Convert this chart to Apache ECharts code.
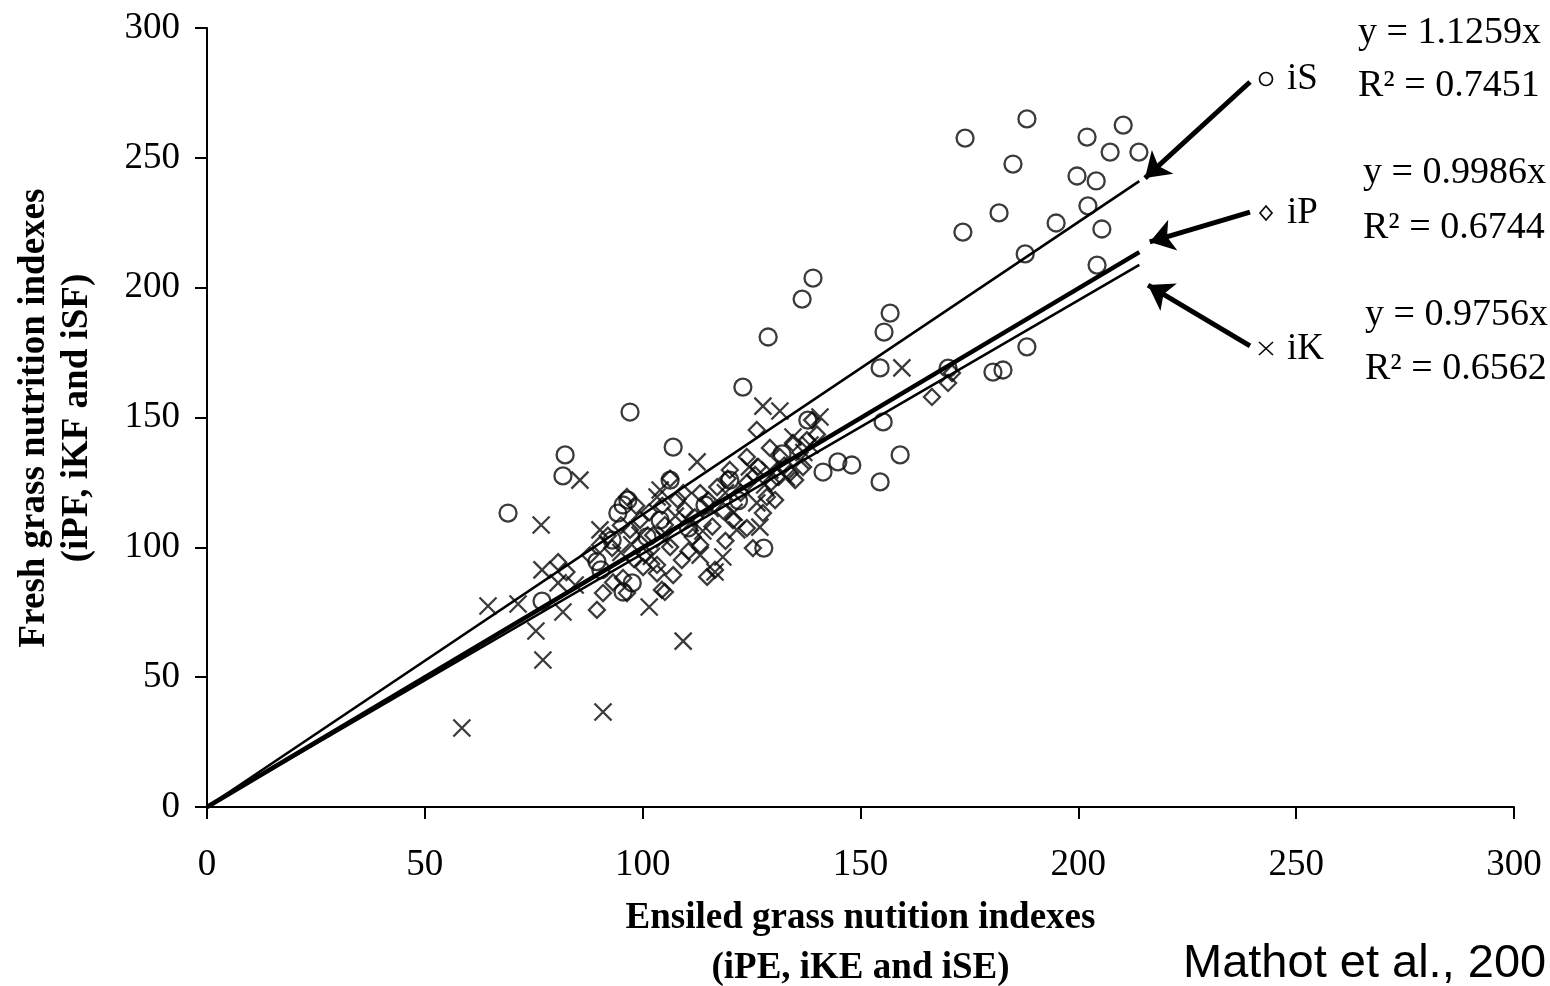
<!DOCTYPE html>
<html>
<head>
<meta charset="utf-8">
<title>Fresh vs ensiled grass nutrition indexes</title>
<script src="https://cdn.jsdelivr.net/npm/echarts@6/dist/echarts.min.js"></script>
<style>
  html, body { margin: 0; padding: 0; background: #fff; }
  #chart { width: 1550px; height: 986px; }
</style>
</head>
<body>
<div id="chart"></div>
<script>
// points: [ensiled index, fresh index]
const iS = [
  [69.1,113.2],[82.2,135.6],[81.7,127.5],[97.1,152.1],[107.0,138.6],[123.0,161.7],[128.8,181.0],
  [136.6,195.6],[139.1,203.7],[174.0,257.6],[188.2,265.0],[202.0,258.0],[210.3,262.6],[207.3,252.2],
  [213.9,252.2],[185.0,247.6],[199.7,243.0],[204.1,241.1],[181.8,228.8],[173.5,221.4],[194.9,224.9],
  [202.2,231.5],[205.4,222.6],[187.8,213.0],[204.3,208.7],[156.8,190.2],[155.4,182.9],[154.5,169.1],
  [188.2,177.2],[155.2,148.3],[159.1,135.6],[154.5,125.2],[144.8,132.9],[148.0,131.7],[141.4,129.0],
  [180.4,167.5],[182.7,168.3],[127.8,99.7],[76.9,79.3],[137.9,149.0],[95.5,116.3],[96.6,118.2],
  [94.3,113.2],[95.5,82.8],[97.6,86.3],[106.3,125.9],[170.1,169.0],[90.4,91.3],[114.3,116.3],
  [120.0,125.9],[104.0,110.5],[93.0,102.8],[89.5,94.5],[101.0,104.0],[110.5,107.5],[122.0,118.0],
  [132.0,136.0]
];
const iP = [
  [80.6,94.3],[89.5,75.9],[90.9,82.4],[96.4,82.4],[103.3,93.2],[104.4,83.6],[93.2,86.5],[95.5,88.2],
  [100.1,92.4],[103.3,90.0],[105.1,82.8],[107.0,89.3],[109.0,95.1],[114.8,88.6],[116.6,91.3],
  [113.2,100.9],[106.3,100.1],[102.4,104.7],[123.9,107.4],[125.3,99.7],[115.0,118.2],[117.1,123.2],
  [125.8,127.9],[126.2,145.2],[129.2,138.3],[123.9,134.8],[131.5,134.8],[134.5,140.2],[137.7,141.3],
  [120.0,129.8],[113.2,120.9],[109.3,120.9],[123.9,124.8],[130.8,127.1],[133.8,128.6],[136.8,130.9],
  [128.5,119.4],[170.1,163.3],[166.4,157.9],[171.0,167.1],[97.1,106.7],[93.0,99.7],[99.4,110.5],
  [90.2,100.9],[87.9,97.0],[96.4,119.4],[106.3,126.5],[138.9,149.0],[109.7,114.4],[105.1,108.6],
  [120.7,110.5],[127.6,113.2],[130.4,118.2],[135.0,125.9],[82.5,90.5],[100.5,97.5],[111.5,104.0],
  [118.5,114.0],[140.0,143.5],[98.5,116.0],[92.0,104.5],[95.0,108.5],[101.5,113.5],[104.5,116.0],
  [108.0,118.5],[112.0,111.5],[116.0,108.0],[119.5,126.5],[122.5,121.0],[126.5,131.0],[129.5,125.0],
  [132.5,131.5],[119.0,102.5],[110.5,98.5],[98.0,95.5]
];
const iK = [
  [58.5,30.4],[64.5,77.4],[71.4,78.2],[76.7,108.6],[77.1,56.6],[75.5,67.8],[76.9,91.3],[81.7,75.1],
  [80.6,86.3],[85.6,125.9],[90.9,36.6],[109.3,63.9],[101.5,77.0],[112.5,132.9],[127.6,154.4],
  [131.5,152.5],[159.5,169.1],[140.7,150.2],[103.3,119.4],[118.4,96.3],[121.6,106.7],[126.2,117.1],
  [126.9,107.8],[134.5,142.5],[116.6,90.5],[110.9,109.4],[104.0,122.1],[90.2,106.7],[84.5,85.5],
  [99.4,104.7],[113.8,106.3],[129.2,129.8],[136.1,133.6],[138.4,139.4],[113.2,97.0],[95.0,98.0],
  [107.5,112.0],[119.0,121.0],[124.5,131.0],[97.5,101.0],[105.0,103.0],[115.5,115.0],[121.0,113.5],
  [128.0,124.0],[133.0,127.0],[137.0,136.5],[102.0,96.5]
];

// regression lines through the origin, end points as drawn
const fitS = [[0, 0], [214, 241.0]];
const fitP = [[0, 0], [214, 213.7]];
const fitK = [[0, 0], [214, 208.8]];

// arrows from the legend labels to the line ends
const arrowS = [[239.4, 279.2], [215.3, 242.2]];
const arrowP = [[239.4, 229.1], [216.4, 217.6]];
const arrowK = [[239.4, 177.6], [216.0, 201.0]];

const seriesNames = ['iS', 'iP', 'iK'];
const eqLabels = ['y = 1.1259x', 'y = 0.9986x', 'y = 0.9756x'];
const r2Labels = ['R\u00B2 = 0.7451', 'R\u00B2 = 0.6744', 'R\u00B2 = 0.6562'];

const serif = '"Liberation Serif", "Times New Roman", serif';
const ink = '#0a0a0a';
const diamond = 'path://M5,0L10,5L5,10L0,5Z';
const cross = 'path://M0,0L10,10M10,0L0,10';

const hollow = {color: 'rgba(0,0,0,0)', borderColor: ink, borderWidth: 2.3};

function arrow(pts) {
  return [{coord: pts[0]}, {coord: pts[1]}];
}

const chart = echarts.init(document.getElementById('chart'));

const option = {
  animation: false,
  grid: {left: 207, right: 36, top: 28, bottom: 179, outerBoundsMode: 'none', containLabel: false},
  xAxis: {
    type: 'value',
    min: 0, max: 300, interval: 50,
    name: 'Ensiled grass nutition indexes\n(iPE, iKE and iSE)',
    nameLocation: 'middle',
    nameGap: 86,
    nameTextStyle: {fontFamily: serif, fontWeight: 'bold', fontSize: 37, lineHeight: 50, color: '#000'},
    axisLine: {lineStyle: {color: '#000', width: 2}},
    axisTick: {length: 12, lineStyle: {color: '#000', width: 2}},
    axisLabel: {fontFamily: serif, fontSize: 37, color: '#000', margin: 40},
    splitLine: {show: false}
  },
  yAxis: {
    type: 'value',
    min: 0, max: 300, interval: 50,
    axisLine: {show: true, lineStyle: {color: '#000', width: 2}},
    axisTick: {show: true, length: 12, lineStyle: {color: '#000', width: 2}},
    axisLabel: {fontFamily: serif, fontSize: 37, color: '#000', margin: 27},
    splitLine: {show: false}
  },
  series: [
    {
      name: seriesNames[0], type: 'scatter', data: iS,
      symbol: 'circle', symbolSize: 17, itemStyle: hollow
    },
    {
      name: seriesNames[1], type: 'scatter', data: iP,
      symbol: diamond, symbolSize: 16, itemStyle: hollow
    },
    {
      name: seriesNames[2], type: 'scatter', data: iK,
      symbol: cross, symbolSize: 17, itemStyle: hollow
    },
    {
      type: 'line', data: fitS, symbol: 'none', lineStyle: {color: '#000', width: 2.6},
      markLine: {
        silent: true, symbol: ['none', 'arrow'], symbolSize: 24,
        label: {show: false},
        lineStyle: {color: '#000', width: 5, type: 'solid'},
        data: [arrow(arrowS), arrow(arrowP), arrow(arrowK)]
      }
    },
    {type: 'line', data: fitP, symbol: 'none', lineStyle: {color: '#000', width: 4.5}},
    {type: 'line', data: fitK, symbol: 'none', lineStyle: {color: '#000', width: 2.6}}
  ],
  graphic: [
    // y axis title, two rotated lines
    {
      type: 'text', x: 34, y: 418, rotation: Math.PI / 2,
      style: {text: 'Fresh grass nutrition indexes', font: 'bold 37px ' + serif,
        fill: '#000', textAlign: 'center', textVerticalAlign: 'middle', align: 'center', verticalAlign: 'middle'}
    },
    {
      type: 'text', x: 77, y: 418, rotation: Math.PI / 2,
      style: {text: '(iPF, iKF and iSF)', font: 'bold 37px ' + serif,
        fill: '#000', textAlign: 'center', textVerticalAlign: 'middle', align: 'center', verticalAlign: 'middle'}
    },
    // legend glyphs next to the arrows
    {type: 'circle', shape: {cx: 1266, cy: 79, r: 6.5}, style: {fill: 'none', stroke: ink, lineWidth: 1.7}},
    {type: 'polygon', shape: {points: [[1266, 206], [1272, 213], [1266, 220], [1260, 213]]},
      style: {fill: 'none', stroke: ink, lineWidth: 1.7}},
    {type: 'polyline', shape: {points: [[1259, 342], [1273, 355]]}, style: {stroke: ink, lineWidth: 1.7}},
    {type: 'polyline', shape: {points: [[1273, 342], [1259, 355]]}, style: {stroke: ink, lineWidth: 1.7}},
    ...seriesNames.map((n, i) => ({
      type: 'text', x: 1287, y: [79, 213, 349][i],
      style: {text: n, font: '37px ' + serif, fill: '#000', textVerticalAlign: 'middle', verticalAlign: 'middle'}
    })),
    ...eqLabels.map((t, i) => ({
      type: 'text', x: [1358, 1363, 1365][i], y: [33, 173, 315][i],
      style: {text: t, font: '38px ' + serif, fill: '#000', textVerticalAlign: 'middle', verticalAlign: 'middle'}
    })),
    ...r2Labels.map((t, i) => ({
      type: 'text', x: [1358, 1363, 1365][i], y: [86, 228, 369][i],
      style: {text: t, font: '38px ' + serif, fill: '#000', textVerticalAlign: 'middle', verticalAlign: 'middle'}
    })),
    {
      type: 'text', x: 1183, y: 964,
      style: {text: 'Mathot et al., 200', font: '47px "Liberation Sans", Arial, sans-serif',
        fill: '#000', textVerticalAlign: 'middle', verticalAlign: 'middle'}
    }
  ]
};

chart.setOption(option);
</script>
</body>
</html>
